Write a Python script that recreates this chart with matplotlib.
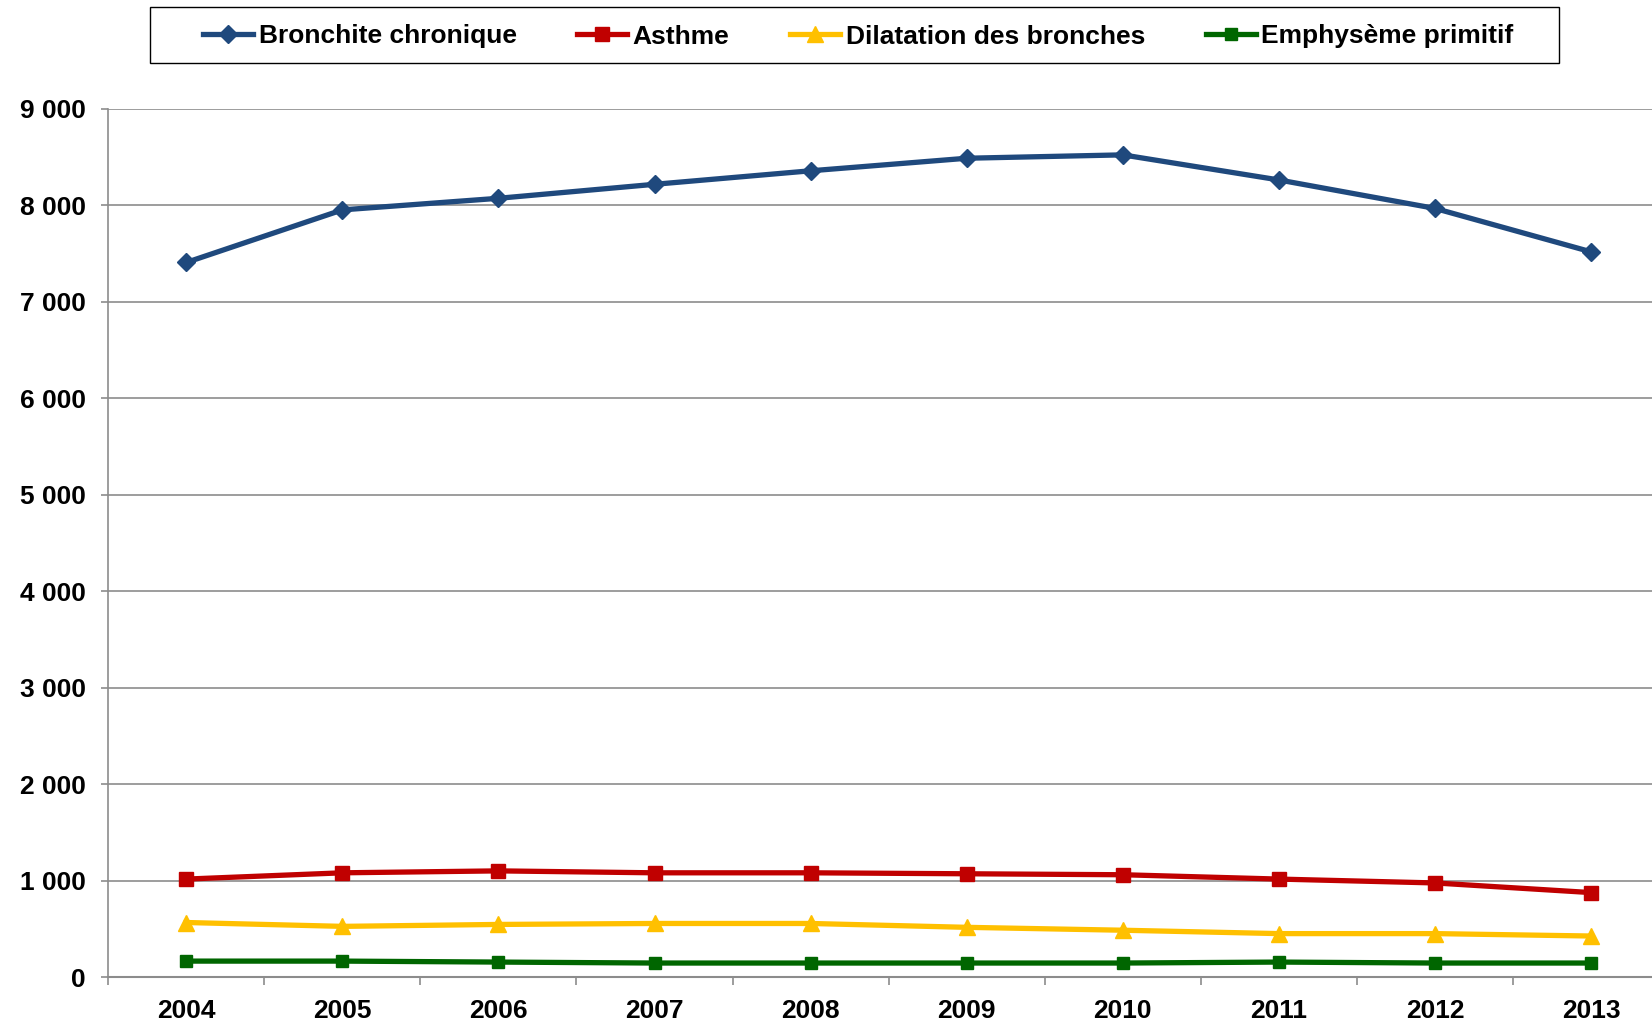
import matplotlib.pyplot as plt
from matplotlib.patches import Rectangle
from matplotlib.ticker import FuncFormatter, MultipleLocator
import numpy as np

plt.rcParams["font.family"] = ["Liberation Sans", "DejaVu Sans"]
plt.rcParams["font.weight"] = "bold"

years = [2004, 2005, 2006, 2007, 2008, 2009, 2010, 2011, 2012, 2013]
bronchite = [7405, 7950, 8070, 8215, 8355, 8485, 8520, 8260, 7965, 7515]
asthme = [1015, 1080, 1100, 1080, 1080, 1070, 1060, 1015, 975, 875]
dilatation = [565, 525, 545, 555, 555, 515, 485, 450, 450, 425]
emphyseme = [165, 165, 155, 145, 145, 145, 145, 155, 145, 145]

series = [
    ("Bronchite chronique", bronchite, "#1F497D", "D", 9),
    ("Asthme", asthme, "#C00000", "s", 10),
    ("Dilatation des bronches", dilatation, "#FFC000", "^", 11),
    ("Emphysème primitif", emphyseme, "#006600", "s", 9),
]

fig = plt.figure(figsize=(16.52, 10.25), dpi=100)
ax = fig.add_axes([0.0655, 0.0468, 0.9345, 0.8473])

for name, vals, color, marker, ms in series:
    ax.plot(years, vals, color=color, linewidth=3.8, marker=marker,
            markersize=ms, markeredgecolor=color, label=name, zorder=3)

ax.set_xlim(2003.5, 2013.39)
ax.set_ylim(0, 9000)
ax.yaxis.set_major_locator(MultipleLocator(1000))
ax.yaxis.set_major_formatter(FuncFormatter(lambda v, p: f"{int(v):,}".replace(",", " ")))
ax.set_xticks(years)
ax.set_xticklabels([str(y) for y in years])
ax.set_xticks(np.arange(2003.5, 2013.1, 1), minor=True)

ax.grid(axis="y", color="#8C8C8C", linewidth=1.2, zorder=0)
ax.spines[["top", "right"]].set_visible(False)
ax.spines["left"].set_color("#8C8C8C")
ax.spines["bottom"].set_color("#8C8C8C")
ax.spines["left"].set_linewidth(1.2)
ax.spines["bottom"].set_linewidth(1.5)

ax.tick_params(axis="y", length=5, width=1.2, color="#8C8C8C", pad=11, labelsize=19)
ax.tick_params(axis="x", which="major", length=0, pad=16, labelsize=19)
ax.tick_params(axis="x", which="minor", length=6, width=1.2, color="#8C8C8C")
for lbl in ax.get_xticklabels() + ax.get_yticklabels():
    lbl.set_fontweight("bold")

# legend frame drawn separately (wider side padding than top/bottom)
fig.patches.append(Rectangle((150 / 1652, 1 - 63 / 1025), 1409 / 1652, 56 / 1025,
                             transform=fig.transFigure, fill=False,
                             edgecolor="black", linewidth=1.0))
fig.legend(loc="center", bbox_to_anchor=(0.5195, 1 - 36.5 / 1025), ncol=4,
           prop={"size": 19, "weight": "bold"}, frameon=False,
           handlelength=1.9, handletextpad=0.2, columnspacing=2.3)

plt.savefig("out.png", dpi=100)
